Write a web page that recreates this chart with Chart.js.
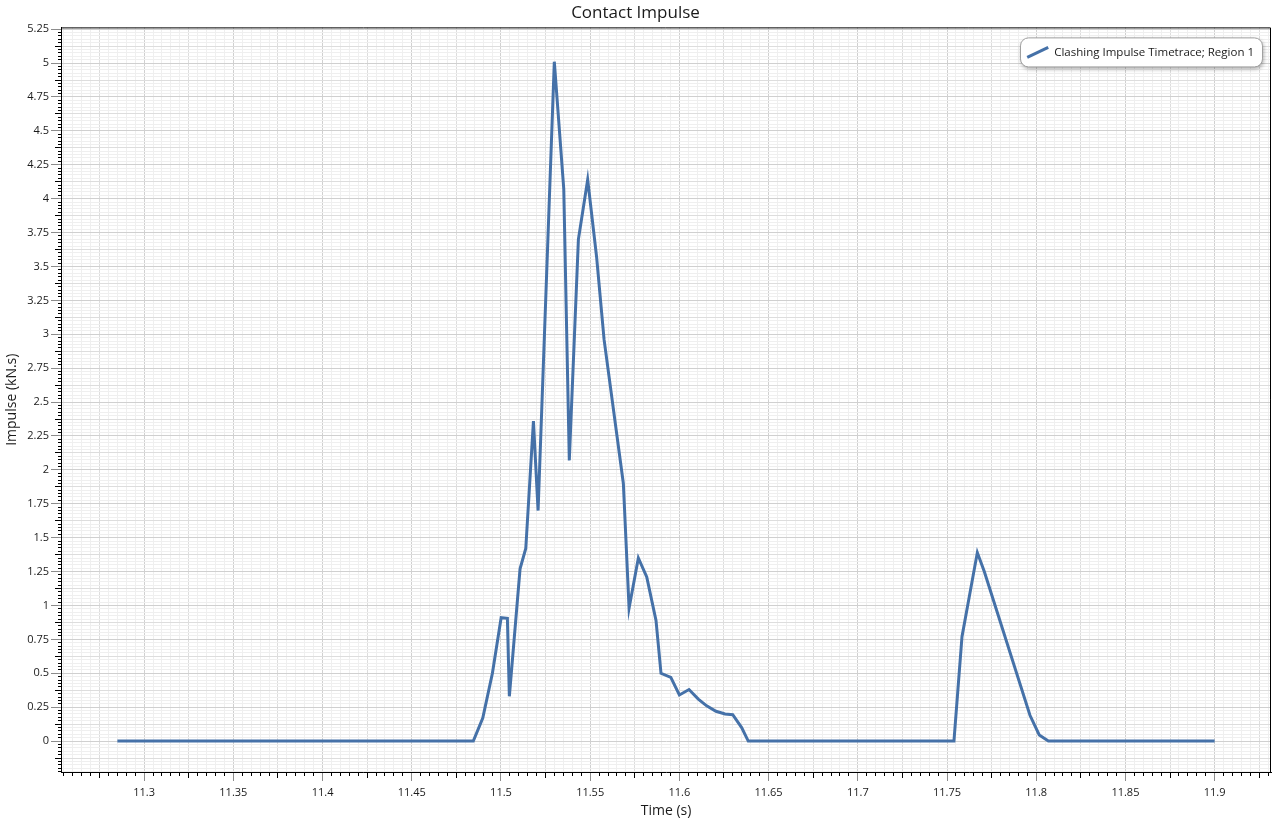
<!DOCTYPE html>
<html>
<head>
<meta charset="utf-8">
<title>Contact Impulse</title>
<script src="https://cdn.jsdelivr.net/npm/chart.js@4.4.0/dist/chart.umd.min.js"></script>
<style>
  html, body { margin: 0; padding: 0; background: #fff; }
</style>
</head>
<body>
<canvas id="impulse-chart" width="1272" height="821"></canvas>
<script>
// Values
const timeValues = [
    11.285, 11.4845, 11.4898, 11.4952, 11.5001, 11.5036, 11.5047, 11.5107, 11.5139,
    11.5182, 11.5208, 11.5299, 11.5352, 11.5383, 11.5434, 11.5486, 11.5536, 11.5578,
    11.5686, 11.5718, 11.577, 11.5817, 11.5869, 11.5897, 11.5952, 11.6, 11.6054,
    11.6106, 11.6153, 11.6205, 11.6256, 11.6299, 11.6349, 11.6386, 11.7539, 11.7584,
    11.767, 11.7709, 11.7965, 11.8017, 11.8068, 11.9
];
const impulseValues = [
    0, 0, 0.17, 0.50, 0.91, 0.905, 0.33, 1.27, 1.42,
    2.36, 1.70, 5.01, 4.07, 2.07, 3.70, 4.14, 3.57, 2.96,
    1.90, 0.98, 1.35, 1.21, 0.89, 0.50, 0.47, 0.34, 0.38,
    0.31, 0.26, 0.22, 0.20, 0.195, 0.10, 0, 0, 0.77,
    1.39, 1.25, 0.19, 0.045, 0, 0
];
const seriesLabel = "Clashing Impulse Timetrace; Region 1";

// Axis ranges and tick steps
const xRange = [11.2534, 11.9316];
const xSteps = [0.05, 0.025, 0.005];
const yRange = [-0.228, 5.263];
const ySteps = [0.25, 0.125, 0.025];

const lineColor = "#4571a8";
const fontFamily = "'Segoe UI', 'Open Sans', sans-serif";

function isMultiple(v, step) {
    const r = v / step;
    return Math.abs(r - Math.round(r)) < 1e-6;
}

function fmt(v) {
    return String(+v.toFixed(4));
}

// build one axis of the three used per direction (labels / mid ticks / minor ticks)
function axis(dir, level) {
    const range = dir === "x" ? xRange : yRange;
    const steps = dir === "x" ? xSteps : ySteps;
    const step = steps[level];
    const lengths = dir === "x" ? [9, 6, 4] : [10, 6, 3];
    const gridColors = ["#d0d0d0", "#dddddd", "#efefef"];
    const a = {
        type: "linear",
        position: dir === "x" ? "bottom" : "left",
        min: range[0],
        max: range[1],
        weight: level === 0 ? 1 : 0,
        border: { display: level === 0, color: "#000", width: 1 },
        grid: {
            drawTicks: true,
            tickLength: lengths[level],
            color: c => (level > 0 && isMultiple(c.tick.value, steps[level - 1])) ? "rgba(0,0,0,0)" : gridColors[level],
            tickColor: c => (level > 0 && isMultiple(c.tick.value, steps[level - 1])) ? "rgba(0,0,0,0)" : (level === 0 ? "#8c8c8c" : "#000")
        },
        ticks: {
            stepSize: step,
            includeBounds: false,
            autoSkip: false,
            display: level === 0,
            maxRotation: 0,
            padding: dir === "x" ? 5 : 2,
            color: "#1a1a1a",
            font: { family: fontFamily, size: 11 },
            callback: v => fmt(v)
        }
    };
    if (level === 0) {
        a.title = {
            display: true,
            text: dir === "x" ? "Time (s)" : "Impulse (kN.s)",
            color: "#1a1a1a",
            font: { family: fontFamily, size: 14 },
            padding: dir === "x" ? { top: 0, bottom: 2 } : { top: 4, bottom: 0 }
        };
        a.afterFit = s => { if (dir === "x") s.height = 49; else s.width = 61; };
    } else {
        a.afterFit = s => { if (dir === "x") s.height = 0; else s.width = 0; };
    }
    return a;
}

// frame around the plot, and the rounded legend box in the top right corner
const frameAndLegend = {
    id: "frameAndLegend",
    afterDraw(chart) {
        const { ctx, chartArea } = chart;
        ctx.save();
        ctx.strokeStyle = "#000";
        ctx.lineWidth = 1;
        ctx.beginPath();
        ctx.moveTo(chartArea.left, chartArea.top + 0.5);
        ctx.lineTo(chartArea.right - 0.5, chartArea.top + 0.5);
        ctx.lineTo(chartArea.right - 0.5, chartArea.bottom);
        ctx.stroke();

        const ds = chart.data.datasets[0];
        ctx.font = "11.5px " + fontFamily;
        const textW = ctx.measureText(ds.label).width;
        const w = 7 + 22 + 5 + textW + 8;
        const h = 29;
        const x = chartArea.right - 9 - w;
        const y = chartArea.top + 10;

        ctx.shadowColor = "rgba(0,0,0,0.35)";
        ctx.shadowBlur = 4;
        ctx.shadowOffsetX = 1;
        ctx.shadowOffsetY = 2;
        ctx.beginPath();
        ctx.roundRect(Math.round(x) + 0.5, y + 0.5, Math.round(w), h, 8);
        ctx.fillStyle = "#fff";
        ctx.fill();
        ctx.shadowColor = "rgba(0,0,0,0)";
        ctx.strokeStyle = "#a0a0a0";
        ctx.stroke();

        // series marker
        ctx.strokeStyle = ds.borderColor;
        ctx.lineWidth = 3;
        ctx.beginPath();
        ctx.moveTo(x + 7, y + 20);
        ctx.lineTo(x + 28, y + 10);
        ctx.stroke();

        ctx.fillStyle = "#1a1a1a";
        ctx.textBaseline = "middle";
        ctx.textAlign = "left";
        ctx.fillText(ds.label, x + 34, y + 15);
        ctx.restore();
    }
};

const ctx = document.getElementById("impulse-chart").getContext("2d");
const impulseChart = new Chart(ctx, {
    type: "line",
    data: {
        datasets: [{
            label: seriesLabel,
            data: timeValues.map((t, i) => ({ x: t, y: impulseValues[i] })),
            borderColor: lineColor,
            backgroundColor: lineColor,
            borderWidth: 3,
            pointRadius: 0,
            tension: 0,
            xAxisID: "x",
            yAxisID: "y"
        }]
    },
    options: {
        responsive: false,
        animation: false,
        layout: { padding: { right: 1 } },
        scales: {
            x: axis("x", 0),
            xMid: axis("x", 1),
            xMinor: axis("x", 2),
            y: axis("y", 0),
            yMid: axis("y", 1),
            yMinor: axis("y", 2)
        },
        plugins: {
            title: {
                display: true,
                text: "Contact Impulse",
                color: "#1a1a1a",
                font: { family: fontFamily, size: 17, weight: "normal" },
                padding: { top: 3, bottom: 4 }
            },
            legend: { display: false },
            tooltip: { enabled: false }
        }
    },
    plugins: [frameAndLegend]
});
</script>
</body>
</html>
